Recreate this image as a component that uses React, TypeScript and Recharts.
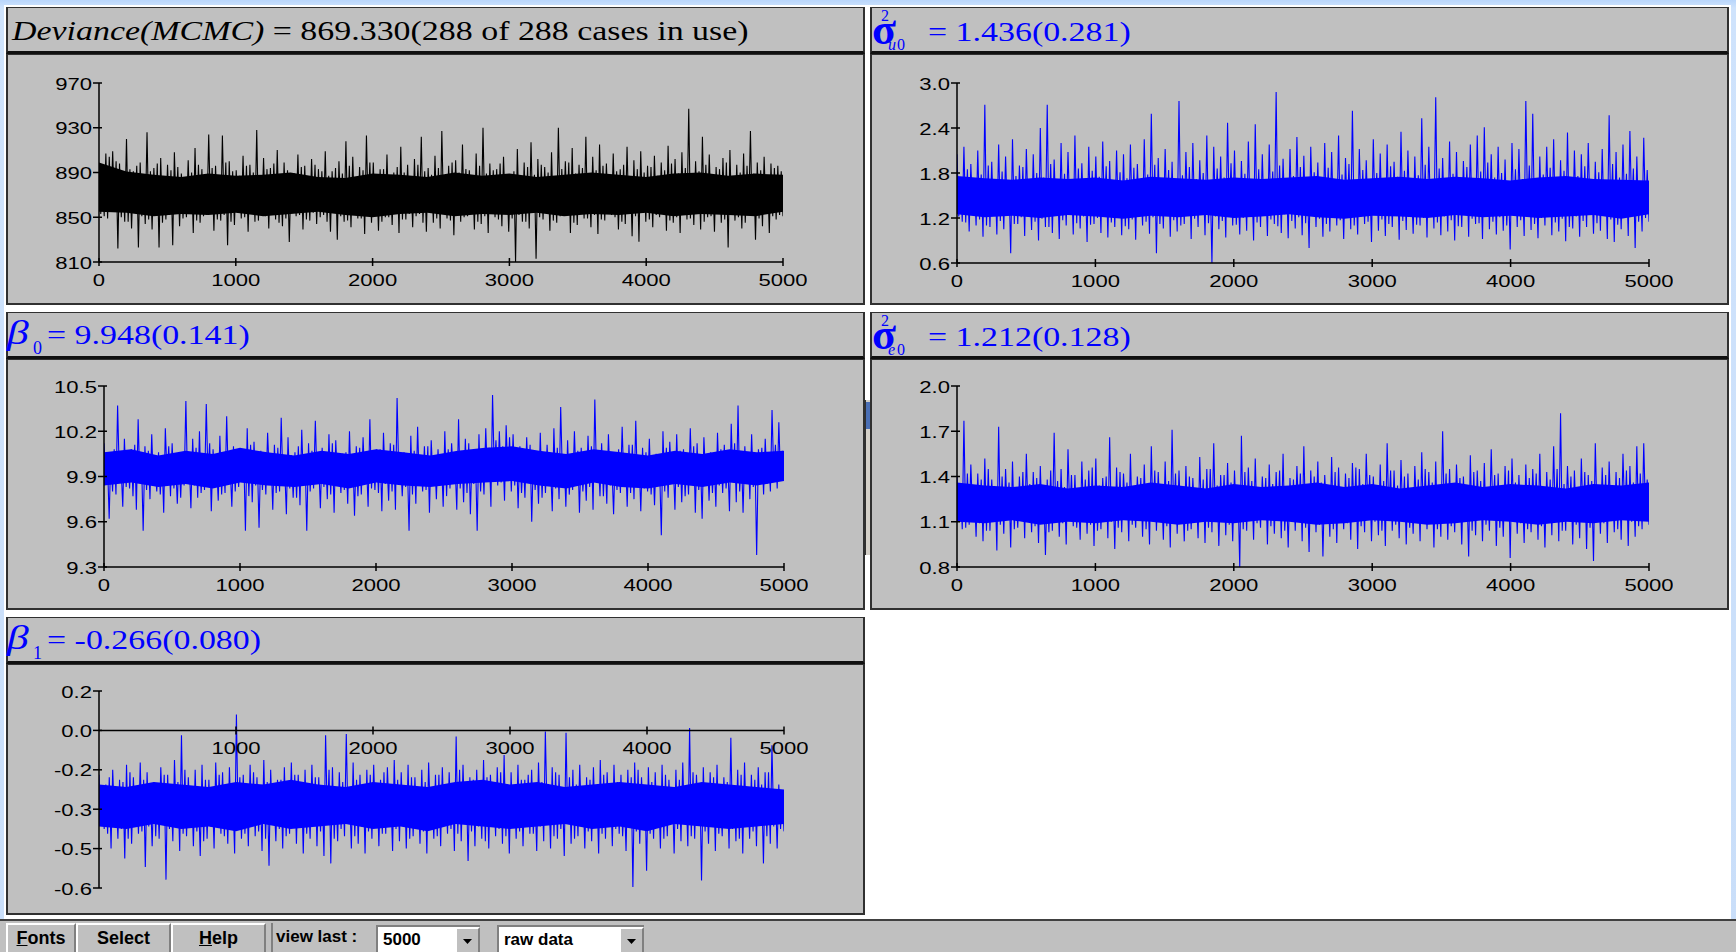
import { ComposedChart, Line, Area, XAxis, YAxis, ReferenceLine } from 'recharts';

// MCMC trace plots (MLwiN style). Each chain is read off the picture as four
// excursions per 50 iterations (peak, inner low, inner high, trough), plus the
// solid core of the trace, read every 200 iterations.

const iterTicks = [0, 1000, 2000, 3000, 4000, 5000];
const iterTicksNoZero = [1000, 2000, 3000, 4000, 5000];

const devianceHigh = [
  893, 907, 909, 898, 920, 891, 899, 926, 894, 903, 897, 908, 889, 901, 912, 893, 924, 896, 923, 900,
  892, 905, 897, 928, 903, 894, 910, 899, 889, 906, 896, 902, 893, 909, 891, 900, 918, 904, 895, 923,
  899, 893, 906, 890, 913, 897, 902, 922, 894, 905, 927, 896, 901, 915, 892, 907, 930, 898, 893, 904,
  888, 911, 899, 917, 902, 895, 908, 930, 900, 912, 897, 922, 904, 915, 898, 907, 893, 913, 901, 909,
  896, 905, 899, 914, 902, 908, 947, 900, 922, 906, 895, 903, 910, 897, 907, 927, 899, 904, 898, 896,
];
const devianceMidHigh = [
  889, 904, 900, 887, 893, 896, 884, 891, 898, 886, 892, 895, 883, 890, 897, 888, 894, 885, 899, 891,
  887, 896, 890, 884, 893, 898, 886, 892, 889, 895, 884, 897, 891, 887, 894, 889, 896, 885, 892, 899,
  888, 893, 886, 895, 890, 884, 897, 891, 888, 894, 886, 899, 890, 893, 885, 896, 889, 892, 898, 887,
  891, 884, 895, 888, 897, 890, 886, 893, 899, 889, 894, 885, 892, 896, 888, 891, 897, 886, 893, 890,
  895, 887, 892, 898, 889, 894, 886, 891, 897, 888, 893, 899, 885, 890, 896, 889, 892, 887, 894, 891,
];
const devianceMidLow = [
  853, 849, 855, 850, 846, 857, 851, 848, 854, 845, 852, 856, 849, 853, 847, 851, 855, 848, 852, 846,
  854, 850, 857, 847, 851, 853, 845, 849, 856, 852, 848, 854, 850, 846, 855, 851, 847, 853, 849, 857,
  852, 846, 850, 855, 848, 853, 851, 845, 856, 849, 854, 847, 852, 850, 857, 846, 851, 853, 848, 855,
  849, 852, 846, 854, 850, 856, 847, 851, 853, 845, 855, 849, 852, 848, 854, 850, 846, 853, 851, 857,
  848, 852, 855, 847, 850, 853, 849, 856, 846, 851, 854, 848, 852, 850, 845, 853, 849, 855, 851, 852,
];
const devianceLow = [
  851, 856, 822, 846, 840, 823, 844, 839, 823, 848, 825, 842, 850, 836, 845, 852, 838, 847, 825, 843,
  849, 837, 846, 853, 840, 848, 842, 828, 851, 839, 847, 844, 852, 837, 830, 846, 841, 849, 835, 845,
  838, 850, 843, 836, 848, 841, 853, 837, 845, 840, 849, 834, 846, 851, 839, 844, 836, 850, 842, 837,
  810, 846, 840, 813, 848, 838, 845, 852, 836, 843, 849, 841, 835, 847, 852, 839, 844, 833, 828, 846,
  841, 850, 838, 845, 836, 848, 843, 839, 850, 837, 845, 823, 847, 840, 852, 830, 842, 836, 848, 851,
];
const devianceCoreHigh = [899, 891, 888, 886, 889, 887, 888, 890, 886, 885, 889, 888, 886, 890, 887, 889, 886, 888, 890, 888, 886, 889, 890, 887, 889, 888];
const devianceCoreLow = [855, 854, 851, 853, 852, 854, 851, 853, 855, 852, 850, 853, 854, 851, 853, 852, 854, 851, 853, 852, 854, 851, 853, 852, 851, 855];

const sigmaUHigh = [
  2.05, 2.15, 1.92, 2.10, 2.71, 1.95, 2.18, 2.02, 2.25, 1.90, 2.12, 2.05, 2.40, 2.71, 1.98, 2.20, 2.08, 2.30, 1.93, 2.15,
  2.02, 2.22, 1.96, 2.10, 2.05, 2.18, 1.92, 2.25, 2.59, 2.00, 2.12, 1.95, 2.76, 2.08, 2.20, 1.97, 2.30, 2.15, 2.02, 2.47,
  2.10, 1.96, 2.22, 2.45, 2.05, 2.18, 2.88, 1.99, 2.12, 2.28, 2.03, 2.15, 1.94, 2.20, 2.08, 2.30, 2.00, 2.63, 2.12, 1.97,
  2.25, 2.06, 2.18, 1.95, 2.35, 2.10, 2.02, 2.53, 2.15, 2.81, 2.00, 2.22, 2.08, 1.96, 2.18, 2.30, 2.41, 2.05, 2.15, 1.98,
  2.20, 2.12, 2.76, 2.59, 2.02, 2.15, 2.25, 1.97, 2.34, 2.10, 2.05, 2.20, 1.95, 2.12, 2.57, 2.08, 2.18, 2.36, 2.02, 2.27,
];
const sigmaUMidHigh = [
  1.72, 1.85, 1.66, 1.78, 1.90, 1.70, 1.82, 1.64, 1.76, 1.88, 1.68, 1.80, 1.74, 1.92, 1.65, 1.79, 1.71, 1.86, 1.67, 1.83,
  1.75, 1.89, 1.69, 1.81, 1.73, 1.87, 1.64, 1.78, 1.91, 1.70, 1.84, 1.66, 1.77, 1.88, 1.72, 1.80, 1.68, 1.86, 1.74, 1.93,
  1.65, 1.79, 1.71, 1.85, 1.67, 1.82, 1.90, 1.69, 1.76, 1.88, 1.73, 1.81, 1.64, 1.87, 1.70, 1.78, 1.92, 1.66, 1.84, 1.72,
  1.80, 1.68, 1.89, 1.75, 1.83, 1.65, 1.77, 1.91, 1.71, 1.86, 1.67, 1.79, 1.73, 1.88, 1.69, 1.82, 1.94, 1.74, 1.80, 1.66,
  1.85, 1.72, 1.90, 1.68, 1.78, 1.87, 1.70, 1.83, 1.65, 1.76, 1.89, 1.71, 1.81, 1.67, 1.92, 1.74, 1.79, 1.86, 1.69, 1.84,
];
const sigmaUMidLow = [
  1.22, 1.14, 1.27, 1.18, 1.10, 1.25, 1.16, 1.29, 1.12, 1.21, 1.26, 1.15, 1.19, 1.08, 1.24, 1.17, 1.28, 1.13, 1.22, 1.11,
  1.20, 1.26, 1.14, 1.23, 1.09, 1.18, 1.27, 1.15, 1.21, 1.12, 1.25, 1.17, 1.10, 1.24, 1.19, 1.28, 1.13, 1.22, 1.16, 1.26,
  1.11, 1.20, 1.27, 1.14, 1.23, 1.18, 1.09, 1.25, 1.16, 1.21, 1.13, 1.28, 1.19, 1.12, 1.24, 1.17, 1.26, 1.10, 1.22, 1.15,
  1.27, 1.18, 1.12, 1.23, 1.16, 1.25, 1.11, 1.20, 1.28, 1.14, 1.22, 1.17, 1.09, 1.24, 1.19, 1.13, 1.26, 1.15, 1.21, 1.10,
  1.23, 1.17, 1.27, 1.12, 1.20, 1.25, 1.14, 1.19, 1.08, 1.22, 1.16, 1.28, 1.13, 1.24, 1.18, 1.11, 1.21, 1.26, 1.15, 1.20,
];
const sigmaULow = [
  1.15, 1.02, 1.10, 0.95, 1.08, 0.98, 1.05, 0.73, 1.12, 0.96, 1.04, 0.90, 1.08, 1.00, 0.92, 1.10, 0.98, 1.06, 0.88, 1.12,
  1.00, 0.94, 1.08, 0.97, 1.05, 0.91, 1.10, 0.99, 0.73, 1.06, 0.95, 1.02, 1.12, 0.92, 1.08, 0.97, 0.60, 1.05, 0.94, 1.10,
  0.98, 1.03, 0.90, 1.08, 0.96, 1.12, 1.00, 0.93, 1.06, 0.97, 0.80, 1.08, 0.95, 1.02, 1.10, 0.92, 1.05, 0.98, 1.12, 0.88,
  1.03, 0.96, 1.08, 0.91, 1.04, 0.99, 1.10, 0.94, 1.06, 0.97, 1.02, 0.90, 1.08, 0.95, 1.12, 0.92, 1.05, 0.98, 1.03, 0.78,
  1.08, 0.96, 1.04, 0.93, 1.10, 0.97, 1.02, 0.89, 1.06, 0.95, 1.08, 0.99, 1.03, 0.92, 0.88, 1.05, 0.96, 0.80, 1.02, 1.15,
];
const sigmaUCoreHigh = [1.76, 1.73, 1.71, 1.74, 1.72, 1.74, 1.70, 1.75, 1.73, 1.71, 1.74, 1.72, 1.74, 1.76, 1.71, 1.73, 1.75, 1.72, 1.75, 1.73, 1.70, 1.74, 1.76, 1.72, 1.71, 1.70];
const sigmaUCoreLow = [1.25, 1.21, 1.23, 1.20, 1.24, 1.22, 1.19, 1.23, 1.21, 1.24, 1.20, 1.22, 1.25, 1.21, 1.19, 1.23, 1.22, 1.20, 1.24, 1.21, 1.23, 1.20, 1.22, 1.24, 1.19, 1.25];

const beta0High = [
  10.12, 10.05, 10.37, 10.15, 10.08, 10.28, 10.10, 10.18, 10.06, 10.22, 10.12, 10.04, 10.40, 10.15, 10.20, 10.38, 10.08, 10.17, 10.30, 10.10,
  10.05, 10.22, 10.13, 10.07, 10.19, 10.11, 10.29, 10.16, 10.06, 10.21, 10.12, 10.27, 10.09, 10.18, 10.14, 10.05, 10.20, 10.10, 10.16, 10.28,
  10.08, 10.19, 10.12, 10.42, 10.06, 10.17, 10.23, 10.10, 10.14, 10.08, 10.20, 10.12, 10.28, 10.15, 10.06, 10.18, 10.22, 10.44, 10.20, 10.24,
  10.18, 10.10, 10.16, 10.07, 10.19, 10.11, 10.22, 10.36, 10.14, 10.20, 10.09, 10.17, 10.41, 10.12, 10.18, 10.06, 10.23, 10.11, 10.27, 10.09,
  10.15, 10.05, 10.20, 10.13, 10.18, 10.08, 10.22, 10.12, 10.16, 10.06, 10.19, 10.11, 10.25, 10.37, 10.10, 10.18, 10.08, 10.15, 10.34, 10.26,
];
const beta0MidHigh = [
  10.02, 10.08, 9.98, 10.05, 10.11, 10.00, 10.07, 9.97, 10.04, 10.10, 10.01, 10.06, 9.99, 10.09, 10.03, 10.12, 10.00, 10.05, 9.98, 10.08,
  10.02, 10.11, 9.99, 10.06, 10.03, 10.09, 9.97, 10.04, 10.10, 10.01, 10.07, 9.98, 10.05, 10.12, 10.00, 10.06, 10.02, 10.09, 9.99, 10.04,
  10.08, 10.01, 10.11, 10.03, 9.98, 10.07, 10.00, 10.10, 10.04, 10.02, 10.08, 9.99, 10.06, 10.12, 10.01, 10.05, 10.09, 10.14, 10.10, 10.16,
  10.08, 10.03, 10.11, 10.00, 10.06, 9.98, 10.09, 10.04, 10.01, 10.07, 9.99, 10.10, 10.03, 10.05, 9.98, 10.08, 10.02, 10.11, 10.00, 10.06,
  10.04, 9.97, 10.09, 10.01, 10.07, 10.03, 10.10, 9.99, 10.05, 10.02, 10.08, 10.00, 10.12, 10.04, 10.06, 10.01, 10.09, 10.03, 10.11, 10.07,
];
const beta0MidLow = [
  9.86, 9.80, 9.90, 9.83, 9.77, 9.88, 9.81, 9.85, 9.78, 9.89, 9.82, 9.76, 9.87, 9.84, 9.79, 9.91, 9.83, 9.78, 9.86, 9.80,
  9.88, 9.77, 9.84, 9.81, 9.90, 9.79, 9.85, 9.82, 9.76, 9.87, 9.80, 9.89, 9.83, 9.78, 9.86, 9.81, 9.84, 9.77, 9.88, 9.82,
  9.79, 9.85, 9.80, 9.90, 9.83, 9.78, 9.86, 9.81, 9.87, 9.84, 9.77, 9.89, 9.82, 9.79, 9.85, 9.80, 9.88, 9.92, 9.86, 9.90,
  9.84, 9.79, 9.87, 9.81, 9.76, 9.85, 9.82, 9.89, 9.78, 9.86, 9.80, 9.83, 9.88, 9.77, 9.84, 9.81, 9.87, 9.79, 9.85, 9.82,
  9.78, 9.86, 9.80, 9.89, 9.83, 9.77, 9.85, 9.81, 9.88, 9.79, 9.84, 9.82, 9.87, 9.80, 9.86, 9.83, 9.89, 9.85, 9.90, 9.87,
];
const beta0Low = [
  9.62, 9.78, 9.70, 9.82, 9.68, 9.54, 9.75, 9.80, 9.66, 9.77, 9.72, 9.84, 9.69, 9.76, 9.81, 9.67, 9.74, 9.79, 9.70, 9.83,
  9.54, 9.73, 9.56, 9.78, 9.68, 9.80, 9.65, 9.76, 9.71, 9.54, 9.82, 9.69, 9.75, 9.66, 9.79, 9.72, 9.64, 9.78, 9.70, 9.81,
  9.67, 9.74, 9.68, 9.77, 9.54, 9.72, 9.80, 9.66, 9.75, 9.70, 9.82, 9.68, 9.73, 9.65, 9.54, 9.78, 9.70, 9.84, 9.74, 9.80,
  9.69, 9.76, 9.60, 9.72, 9.79, 9.67, 9.75, 9.70, 9.81, 9.66, 9.74, 9.68, 9.77, 9.72, 9.65, 9.79, 9.70, 9.75, 9.67, 9.80,
  9.71, 9.51, 9.76, 9.68, 9.73, 9.78, 9.66, 9.62, 9.74, 9.70, 9.79, 9.67, 9.73, 9.66, 9.75, 9.38, 9.78, 9.80, 9.82, 10.02,
];
const beta0CoreHigh = [10.06, 10.08, 10.04, 10.07, 10.05, 10.09, 10.06, 10.04, 10.07, 10.05, 10.08, 10.06, 10.04, 10.07, 10.09, 10.10, 10.07, 10.05, 10.08, 10.06, 10.04, 10.07, 10.05, 10.08, 10.06, 10.07];
const beta0CoreLow = [9.84, 9.86, 9.83, 9.85, 9.82, 9.86, 9.84, 9.83, 9.85, 9.82, 9.86, 9.84, 9.83, 9.85, 9.86, 9.87, 9.84, 9.82, 9.86, 9.83, 9.82, 9.85, 9.83, 9.86, 9.84, 9.87];

const sigmaEHigh = [
  1.40, 1.77, 1.48, 1.42, 1.52, 1.38, 1.73, 1.45, 1.50, 1.40, 1.55, 1.43, 1.47, 1.38, 1.69, 1.45, 1.58, 1.41, 1.50, 1.44,
  1.52, 1.39, 1.66, 1.46, 1.42, 1.55, 1.40, 1.48, 1.60, 1.43, 1.50, 1.71, 1.44, 1.47, 1.39, 1.53, 1.45, 1.62, 1.41, 1.49,
  1.44, 1.67, 1.46, 1.52, 1.40, 1.48, 1.43, 1.55, 1.39, 1.47, 1.60, 1.44, 1.50, 1.41, 1.53, 1.46, 1.42, 1.49, 1.45, 1.55,
  1.40, 1.48, 1.62, 1.44, 1.51, 1.42, 1.47, 1.56, 1.43, 1.50, 1.70, 1.45, 1.48, 1.40, 1.54, 1.44, 1.49, 1.58, 1.42, 1.47,
  1.52, 1.41, 1.48, 1.45, 1.55, 1.43, 1.60, 1.82, 1.47, 1.44, 1.52, 1.41, 1.62, 1.46, 1.50, 1.43, 1.55, 1.47, 1.60, 1.62,
];
const sigmaEMidHigh = [
  1.34, 1.42, 1.30, 1.38, 1.45, 1.32, 1.40, 1.36, 1.29, 1.43, 1.35, 1.39, 1.31, 1.44, 1.37, 1.33, 1.41, 1.30, 1.38, 1.46,
  1.34, 1.40, 1.32, 1.43, 1.36, 1.29, 1.39, 1.35, 1.44, 1.31, 1.37, 1.42, 1.33, 1.40, 1.30, 1.38, 1.45, 1.34, 1.41, 1.36,
  1.32, 1.43, 1.37, 1.30, 1.39, 1.35, 1.44, 1.31, 1.38, 1.42, 1.34, 1.40, 1.36, 1.29, 1.43, 1.33, 1.39, 1.46, 1.35, 1.41,
  1.31, 1.37, 1.44, 1.34, 1.40, 1.32, 1.38, 1.45, 1.36, 1.30, 1.42, 1.35, 1.39, 1.33, 1.43, 1.37, 1.31, 1.41, 1.34, 1.44,
  1.36, 1.30, 1.39, 1.42, 1.33, 1.38, 1.45, 1.35, 1.40, 1.32, 1.43, 1.37, 1.31, 1.41, 1.34, 1.39, 1.44, 1.36, 1.42, 1.38,
];
const sigmaEMidLow = [
  1.12, 1.06, 1.15, 1.09, 1.04, 1.13, 1.08, 1.16, 1.05, 1.11, 1.14, 1.07, 1.10, 1.03, 1.13, 1.09, 1.15, 1.06, 1.12, 1.08,
  1.04, 1.14, 1.10, 1.06, 1.16, 1.08, 1.12, 1.05, 1.11, 1.15, 1.07, 1.13, 1.09, 1.04, 1.14, 1.10, 1.06, 1.12, 1.16, 1.08,
  1.11, 1.05, 1.13, 1.09, 1.15, 1.07, 1.12, 1.04, 1.10, 1.14, 1.06, 1.11, 1.08, 1.16, 1.05, 1.13, 1.09, 1.12, 1.07, 1.15,
  1.10, 1.04, 1.14, 1.08, 1.12, 1.06, 1.15, 1.09, 1.11, 1.05, 1.13, 1.07, 1.16, 1.10, 1.04, 1.12, 1.08, 1.14, 1.06, 1.11,
  1.15, 1.09, 1.05, 1.13, 1.07, 1.12, 1.10, 1.04, 1.14, 1.08, 1.11, 1.06, 1.16, 1.09, 1.13, 1.05, 1.12, 1.10, 1.07, 1.14,
];
const sigmaELow = [
  1.05, 1.08, 1.00, 0.97, 1.04, 0.91, 1.02, 0.93, 1.06, 0.99, 1.03, 0.96, 0.88, 1.04, 1.00, 0.95, 1.07, 0.98, 1.02, 0.94,
  1.05, 0.99, 0.92, 1.03, 0.97, 1.06, 1.00, 0.95, 1.04, 0.98, 0.93, 1.02, 0.97, 1.05, 0.99, 0.96, 1.03, 0.94, 1.01, 0.97,
  0.80, 1.04, 0.98, 1.06, 0.95, 1.02, 0.99, 0.93, 1.04, 0.97, 0.90, 1.03, 0.87, 1.00, 0.96, 1.05, 0.98, 0.92, 1.03, 0.97,
  1.01, 0.94, 1.04, 0.99, 0.95, 1.02, 0.97, 1.05, 0.93, 1.00, 0.98, 1.03, 0.95, 0.87, 1.01, 0.97, 1.04, 0.94, 1.00, 0.86,
  1.02, 0.96, 1.03, 0.98, 0.93, 1.01, 0.97, 1.04, 0.95, 0.99, 0.92, 0.84, 1.02, 0.96, 1.03, 0.98, 0.94, 1.00, 1.05, 1.08,
];
const sigmaECoreHigh = [1.36, 1.34, 1.33, 1.35, 1.32, 1.34, 1.33, 1.36, 1.34, 1.32, 1.35, 1.33, 1.34, 1.36, 1.33, 1.35, 1.32, 1.34, 1.36, 1.33, 1.35, 1.34, 1.32, 1.35, 1.34, 1.36];
const sigmaECoreLow = [1.10, 1.09, 1.11, 1.08, 1.10, 1.09, 1.11, 1.10, 1.08, 1.10, 1.09, 1.11, 1.10, 1.08, 1.09, 1.11, 1.10, 1.08, 1.09, 1.11, 1.10, 1.08, 1.10, 1.09, 1.11, 1.10];

const beta1High = [
  -0.14, -0.18, -0.12, -0.16, -0.10, -0.15, -0.09, -0.13, -0.17, -0.11, -0.14, -0.08, 0.02, -0.15, -0.12, -0.10, -0.16, -0.09, -0.13, -0.11,
  0.105, -0.14, -0.10, -0.15, -0.08, -0.12, -0.16, -0.11, -0.09, -0.14, -0.12, -0.10, -0.15, 0.02, -0.11, -0.13, 0.025, -0.09, -0.14, -0.12,
  -0.10, -0.16, -0.11, -0.08, -0.13, -0.10, -0.15, -0.12, -0.09, -0.14, -0.11, -0.13, 0.015, -0.10, -0.15, -0.12, -0.08, -0.14, -0.11, -0.06,
  -0.13, -0.10, -0.16, -0.12, -0.09, 0.035, -0.11, -0.14, 0.03, -0.12, -0.10, -0.15, -0.11, -0.08, -0.13, -0.10, -0.14, -0.12, -0.09, -0.15,
  -0.11, -0.13, -0.10, -0.16, -0.12, -0.09, 0.05, -0.14, -0.11, -0.13, -0.10, -0.15, 0.01, -0.12, -0.09, -0.14, -0.11, -0.13, -0.02, -0.18,
];
const beta1MidHigh = [
  -0.19, -0.15, -0.22, -0.17, -0.13, -0.20, -0.16, -0.23, -0.18, -0.14, -0.21, -0.17, -0.12, -0.19, -0.24, -0.16, -0.20, -0.14, -0.18, -0.22,
  -0.15, -0.19, -0.13, -0.21, -0.17, -0.23, -0.16, -0.20, -0.14, -0.18, -0.22, -0.15, -0.19, -0.12, -0.21, -0.17, -0.24, -0.16, -0.20, -0.14,
  -0.18, -0.13, -0.22, -0.16, -0.19, -0.15, -0.21, -0.17, -0.23, -0.14, -0.20, -0.18, -0.12, -0.19, -0.16, -0.22, -0.15, -0.20, -0.13, -0.18,
  -0.21, -0.16, -0.14, -0.23, -0.17, -0.19, -0.13, -0.21, -0.15, -0.18, -0.22, -0.16, -0.20, -0.14, -0.19, -0.17, -0.23, -0.15, -0.12, -0.20,
  -0.17, -0.21, -0.14, -0.19, -0.16, -0.22, -0.13, -0.18, -0.20, -0.15, -0.23, -0.17, -0.19, -0.14, -0.21, -0.16, -0.18, -0.13, -0.20, -0.22,
];
const beta1MidLow = [
  -0.34, -0.38, -0.32, -0.36, -0.40, -0.33, -0.37, -0.35, -0.39, -0.31, -0.36, -0.34, -0.38, -0.32, -0.37, -0.41, -0.35, -0.33, -0.39, -0.36,
  -0.32, -0.38, -0.34, -0.37, -0.40, -0.33, -0.36, -0.39, -0.35, -0.31, -0.38, -0.34, -0.37, -0.33, -0.40, -0.36, -0.32, -0.39, -0.35, -0.37,
  -0.34, -0.38, -0.31, -0.36, -0.33, -0.40, -0.35, -0.37, -0.32, -0.39, -0.34, -0.36, -0.38, -0.33, -0.37, -0.35, -0.41, -0.32, -0.36, -0.39,
  -0.34, -0.37, -0.33, -0.38, -0.35, -0.31, -0.39, -0.36, -0.34, -0.40, -0.32, -0.37, -0.35, -0.38, -0.33, -0.36, -0.39, -0.34, -0.37, -0.32,
  -0.38, -0.35, -0.40, -0.33, -0.36, -0.34, -0.39, -0.31, -0.37, -0.35, -0.38, -0.32, -0.36, -0.40, -0.34, -0.37, -0.33, -0.39, -0.35, -0.36,
];
const beta1Low = [
  -0.36, -0.44, -0.40, -0.48, -0.42, -0.38, -0.515, -0.43, -0.40, -0.566, -0.41, -0.45, -0.39, -0.43, -0.47, -0.40, -0.44, -0.38, -0.42, -0.46,
  -0.40, -0.43, -0.39, -0.45, -0.51, -0.41, -0.44, -0.38, -0.42, -0.46, -0.40, -0.43, -0.47, -0.50, -0.41, -0.39, -0.44, -0.42, -0.46, -0.40,
  -0.43, -0.38, -0.45, -0.41, -0.44, -0.39, -0.42, -0.46, -0.40, -0.43, -0.38, -0.45, -0.41, -0.49, -0.43, -0.40, -0.44, -0.39, -0.42, -0.46,
  -0.40, -0.43, -0.38, -0.45, -0.41, -0.44, -0.40, -0.47, -0.42, -0.39, -0.44, -0.41, -0.46, -0.40, -0.43, -0.38, -0.45, -0.596, -0.42, -0.53,
  -0.40, -0.44, -0.39, -0.46, -0.41, -0.43, -0.40, -0.57, -0.42, -0.45, -0.39, -0.44, -0.41, -0.46, -0.40, -0.43, -0.50, -0.42, -0.44, -0.37,
];
const beta1CoreHigh = [-0.18, -0.19, -0.17, -0.18, -0.19, -0.17, -0.18, -0.16, -0.18, -0.19, -0.17, -0.18, -0.19, -0.17, -0.16, -0.18, -0.17, -0.19, -0.18, -0.17, -0.18, -0.19, -0.17, -0.18, -0.19, -0.20];
const beta1CoreLow = [-0.35, -0.36, -0.34, -0.36, -0.35, -0.37, -0.34, -0.36, -0.35, -0.34, -0.36, -0.35, -0.37, -0.34, -0.35, -0.36, -0.35, -0.34, -0.36, -0.35, -0.37, -0.34, -0.35, -0.36, -0.35, -0.34];

const devianceTicks = [970, 930, 890, 850, 810];
const sigmaUTicks = [3.0, 2.4, 1.8, 1.2, 0.6];
const beta0Ticks = [10.5, 10.2, 9.9, 9.6, 9.3];
const sigmaETicks = [2.0, 1.7, 1.4, 1.1, 0.8];
const beta1Ticks = [0.2, 0.04, -0.12, -0.28, -0.44, -0.6];

const BLUE = '#0000ff';
const GRAY = '#c0c0c0';
const TICK_FONT = '"Liberation Sans", Arial, sans-serif';
const SERIF = '"Liberation Serif", "Times New Roman", serif';
const SX = 1.28; // the screenshot is stretched sideways

// peak, inner low, inner high, trough for every 50 iterations
const buildRows = (high: number[], midLow: number[], midHigh: number[], low: number[]) => {
  const vals: number[] = [];
  high.forEach((h, i) => {
    vals.push(h, midLow[i], midHigh[i], low[i]);
  });
  return vals.map((v, i) => ({ iter: Math.round((i * 5000) / (vals.length - 1)), v }));
};

const buildCore = (highs: number[], lows: number[]) =>
  highs.map((h, i) => ({ iter: Math.round((i * 5000) / (highs.length - 1)), band: [lows[i], h] }));

const fixed1 = (v: number) => v.toFixed(1);
const floor1 = (v: number) => (Math.floor(v * 10 + 1e-6) / 10).toFixed(1);

interface Plot { x: number; y: number; w: number; h: number }

const ML = 70;
const MT = 12;
const MR = 24;
const XH = 40;

function Trace({ plot, rows, core, color, domain, ticks, xTicks, fmt, axisAt }: {
  plot: Plot; rows: any[]; core: any[]; color: string; domain: [number, number];
  ticks: number[]; xTicks: number[]; fmt: (v: number) => string; axisAt?: number;
}) {
  const axisY = axisAt === undefined
    ? MT + plot.h
    : MT + ((domain[1] - axisAt) / (domain[1] - domain[0])) * plot.h;

  const yTick = (p: any) => (
    <g>
      <line x1={ML - 6} x2={ML + 3} y1={p.y} y2={p.y} stroke="#000" strokeWidth={1.5} />
      <text transform={`translate(${ML - 7},${p.y + 6.5}) scale(1.3,1)`} textAnchor="end"
        fontFamily={TICK_FONT} fontSize={17} fill="#000">{fmt(p.payload.value)}</text>
    </g>
  );
  const xTick = (p: any) => (
    <g>
      <line x1={p.x} x2={p.x} y1={axisY - 4} y2={axisY + 4} stroke="#000" strokeWidth={1.5} />
      <text transform={`translate(${p.x},${axisY + 23.5}) scale(1.3,1)`} textAnchor="middle"
        fontFamily={TICK_FONT} fontSize={17} fill="#000">{p.payload.value}</text>
    </g>
  );

  return (
    <div style={{ position: 'absolute', left: plot.x - ML, top: plot.y - MT }}>
      <ComposedChart width={plot.w + ML + MR} height={plot.h + MT + XH}
        margin={{ top: MT, right: MR, left: 0, bottom: 0 }}>
        <YAxis type="number" domain={domain} ticks={ticks} interval={0} width={ML}
          allowDataOverflow axisLine={{ stroke: '#000', strokeWidth: 1.5 }} tickLine={false} tick={yTick} />
        <Area data={core} type="linear" dataKey="band" stroke="none" fill={color} fillOpacity={1}
          isAnimationActive={false} />
        <Line data={rows} type="linear" dataKey="v" stroke={color} strokeWidth={1.1} dot={false}
          isAnimationActive={false} />
        {axisAt !== undefined && (
          <ReferenceLine y={axisAt} stroke="#000" strokeWidth={1.5} />
        )}
        <XAxis dataKey="iter" type="number" domain={[0, 5000]} ticks={xTicks} interval={0} height={XH}
          allowDataOverflow axisLine={axisAt === undefined ? { stroke: '#000', strokeWidth: 1.5 } : false}
          tickLine={false} tick={xTick} />
      </ComposedChart>
    </div>
  );
}

function Frame({ x, y }: { x: number; y: number }) {
  const box = { position: 'absolute' as const, left: x, width: 859, boxSizing: 'border-box' as const, background: GRAY };
  return (
    <>
      <div style={{ ...box, top: y, height: 47, borderTop: '1px solid #303030', borderLeft: '2px solid #303030',
        borderRight: '2px solid #303030', borderBottom: '3px solid #101010' }} />
      <div style={{ ...box, top: y + 47, height: 251, border: '2px solid #303030', borderTop: '1px solid #303030' }} />
    </>
  );
}

function SigmaTitle({ x, y, sub, value }: { x: number; y: number; sub: string; value: string }) {
  return (
    <g fill={BLUE} fontFamily={SERIF}>
      <text x={x + 2} y={y + 37} fontSize={44} fontWeight="bold">σ</text>
      <text x={x + 11} y={y + 14} fontSize={16}>2</text>
      <text x={x + 18} y={y + 43} fontSize={16} fontStyle="italic">{sub}</text>
      <text x={x + 27} y={y + 43} fontSize={16}>0</text>
      <text transform={`translate(${x + 58},${y + 33.5}) scale(${SX},1)`} fontSize={26.5}>= {value}</text>
    </g>
  );
}

function BetaTitle({ x, y, sub, value }: { x: number; y: number; sub: string; value: string }) {
  return (
    <g fill={BLUE} fontFamily={SERIF}>
      <text transform={`translate(${x + 1},${y + 32}) scale(${SX},1)`} fontSize={34} fontStyle="italic">β</text>
      <text x={x + 27} y={y + 42} fontSize={18}>{sub}</text>
      <text transform={`translate(${x + 41},${y + 32}) scale(${SX},1)`} fontSize={26.5}>= {value}</text>
    </g>
  );
}

function Button({ x, w, children }: { x: number; w: number; children: any }) {
  return (
    <div style={{ position: 'absolute', left: x, top: 2, width: w, height: 31, boxSizing: 'border-box',
      borderTop: '2px solid #ffffff', borderLeft: '2px solid #ffffff', borderRight: '2px solid #808080',
      borderBottom: '2px solid #808080', font: `bold 18px ${TICK_FONT}`, lineHeight: '26px', textAlign: 'center' }}>
      {children}
    </div>
  );
}

function Combo({ x, w, text }: { x: number; w: number; text: string }) {
  return (
    <div style={{ position: 'absolute', left: x, top: 4, width: w, height: 30, boxSizing: 'border-box', background: '#fff',
      borderTop: '2px solid #808080', borderLeft: '2px solid #808080', font: `bold 17px ${TICK_FONT}`, lineHeight: '26px' }}>
      <span style={{ paddingLeft: 5 }}>{text}</span>
      <div style={{ position: 'absolute', right: 0, top: 0, width: 25, height: 28, background: GRAY, boxSizing: 'border-box',
        borderTop: '2px solid #fff', borderLeft: '2px solid #fff', borderRight: '2px solid #808080', borderBottom: '2px solid #808080' }}>
        <svg width={21} height={24} style={{ position: 'absolute', left: 0, top: 0 }}>
          <path d="M6 10 L15 10 L10.5 15 Z" fill="#000" />
        </svg>
      </div>
    </div>
  );
}

export default function App() {
  const panels = [
    { fx: 6, fy: 7, plot: { x: 99, y: 83, w: 684, h: 179 },
      rows: buildRows(devianceHigh, devianceMidLow, devianceMidHigh, devianceLow),
      core: buildCore(devianceCoreHigh, devianceCoreLow), xTicks: iterTicks,
      color: '#000', domain: [810, 970] as [number, number], ticks: devianceTicks, fmt: (v: number) => String(v) },
    { fx: 870, fy: 7, plot: { x: 957, y: 83, w: 692, h: 180 },
      rows: buildRows(sigmaUHigh, sigmaUMidLow, sigmaUMidHigh, sigmaULow),
      core: buildCore(sigmaUCoreHigh, sigmaUCoreLow), xTicks: iterTicks,
      color: BLUE, domain: [0.6, 3.0] as [number, number], ticks: sigmaUTicks, fmt: fixed1 },
    { fx: 6, fy: 312, plot: { x: 104, y: 386, w: 680, h: 181 },
      rows: buildRows(beta0High, beta0MidLow, beta0MidHigh, beta0Low),
      core: buildCore(beta0CoreHigh, beta0CoreLow), xTicks: iterTicks,
      color: BLUE, domain: [9.3, 10.5] as [number, number], ticks: beta0Ticks, fmt: fixed1 },
    { fx: 870, fy: 312, plot: { x: 957, y: 386, w: 692, h: 181 },
      rows: buildRows(sigmaEHigh, sigmaEMidLow, sigmaEMidHigh, sigmaELow),
      core: buildCore(sigmaECoreHigh, sigmaECoreLow), xTicks: iterTicks,
      color: BLUE, domain: [0.8, 2.0] as [number, number], ticks: sigmaETicks, fmt: fixed1 },
    { fx: 6, fy: 617, plot: { x: 99, y: 691, w: 685, h: 197 },
      rows: buildRows(beta1High, beta1MidLow, beta1MidHigh, beta1Low),
      core: buildCore(beta1CoreHigh, beta1CoreLow), xTicks: iterTicksNoZero,
      color: BLUE, domain: [-0.6, 0.2] as [number, number], ticks: beta1Ticks, fmt: floor1, axisAt: 0.04 },
  ];

  return (
    <div style={{ position: 'absolute', left: 0, top: 0, width: 1736, height: 952, overflow: 'hidden',
      background: 'linear-gradient(180deg, #b9d6fb 0px, #cfe3fc 8px, #c9def9 100%)', fontFamily: TICK_FONT }}>
      <div style={{ position: 'absolute', left: 4, top: 5, width: 1727, height: 914, background: '#fff' }} />
      {/* glimpse of the window behind, between the middle panels */}
      <div style={{ position: 'absolute', left: 865, top: 400, width: 5, height: 155, background: '#d4d0c8',
        borderLeft: '1px solid #303030' }} />
      <div style={{ position: 'absolute', left: 866, top: 402, width: 4, height: 27, background: '#4a6fb5' }} />

      {panels.map((p, i) => <Frame key={i} x={p.fx} y={p.fy} />)}
      {panels.map((p, i) => (
        <Trace key={i} plot={p.plot} rows={p.rows} core={p.core} color={p.color} domain={p.domain}
          ticks={p.ticks} xTicks={p.xTicks} fmt={p.fmt} axisAt={p.axisAt} />
      ))}

      <svg width={1736} height={952} style={{ position: 'absolute', left: 0, top: 0, pointerEvents: 'none' }}>
        <text transform={`translate(12,39.5) scale(${SX},1)`} fontFamily={SERIF} fontSize={26.5} fill="#000">
          <tspan fontStyle="italic">Deviance(MCMC)</tspan> = 869.330(288 of 288 cases in use)
        </text>
        <SigmaTitle x={870} y={7} sub="u" value="1.436(0.281)" />
        <BetaTitle x={6} y={312} sub="0" value="9.948(0.141)" />
        <SigmaTitle x={870} y={312} sub="e" value="1.212(0.128)" />
        <BetaTitle x={6} y={617} sub="1" value="-0.266(0.080)" />
      </svg>

      <div style={{ position: 'absolute', left: 0, top: 919, width: 1736, height: 33, background: GRAY,
        borderTop: '2px solid #404040', boxSizing: 'border-box' }}>
        <Button x={6} w={70}><u>F</u>onts</Button>
        <Button x={76} w={95}>Select</Button>
        <Button x={171} w={95}><u>H</u>elp</Button>
        <div style={{ position: 'absolute', left: 271, top: 2, height: 31, font: `bold 17px ${TICK_FONT}`, lineHeight: '28px',
          borderLeft: '2px solid #808080', paddingLeft: 3 }}>view last :</div>
        <Combo x={376} w={104} text="5000" />
        <Combo x={497} w={147} text="raw data" />
      </div>
    </div>
  );
}
